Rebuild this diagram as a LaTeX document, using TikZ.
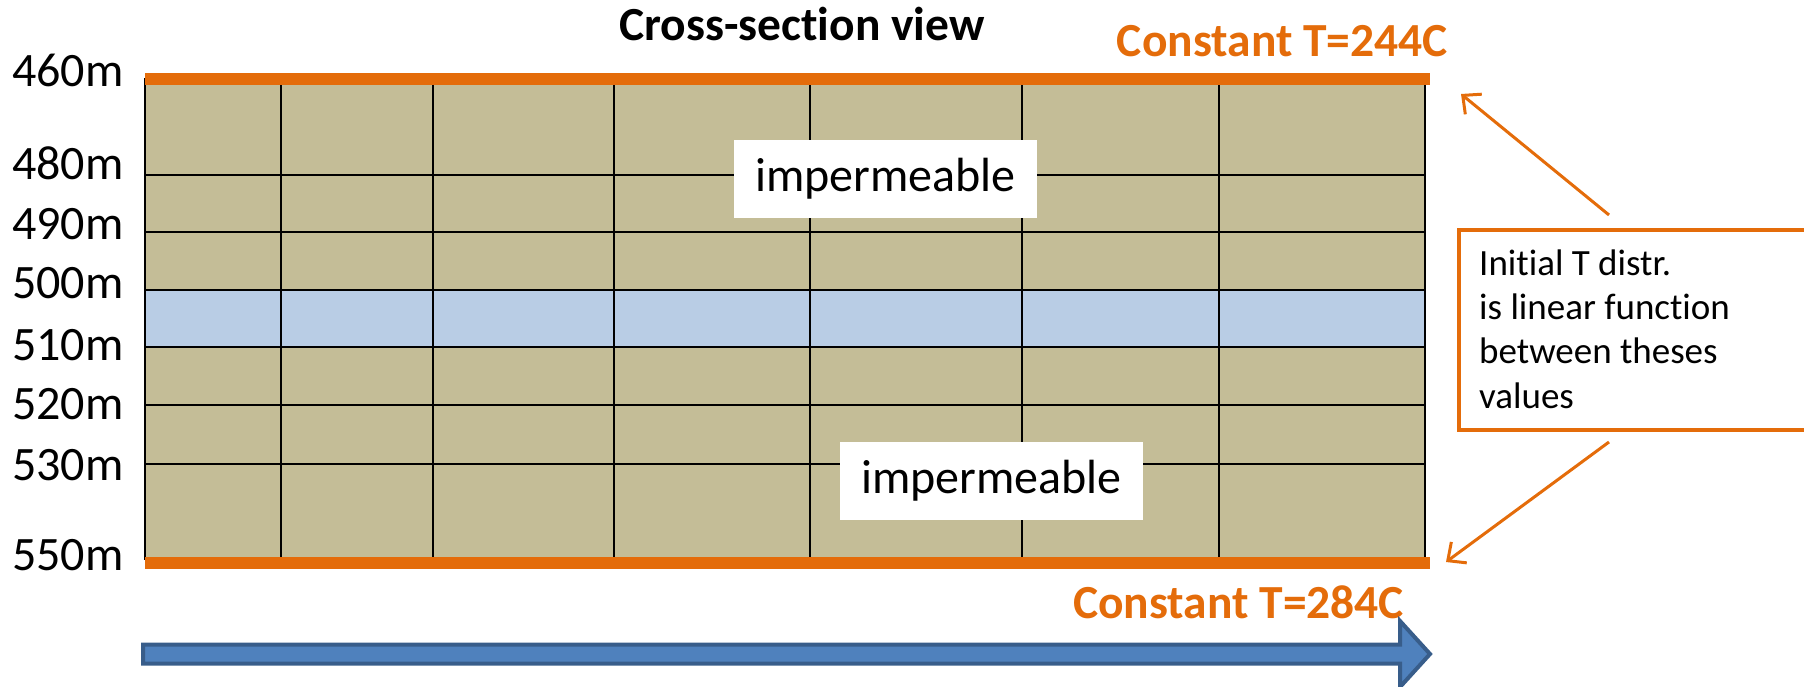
\documentclass[tikz,border=0pt]{standalone}
\usepackage{fontspec}
\setmainfont{Carlito}[Ligatures=NoCommon]
\usetikzlibrary{arrows.meta}
\definecolor{soil}{HTML}{C4BD97}
\definecolor{layerblue}{HTML}{B9CDE5}
\definecolor{orng}{HTML}{E46C0A}
\definecolor{arrowblue}{HTML}{4F81BD}
\definecolor{arrowedge}{HTML}{385D8A}
\begin{document}
\begin{tikzpicture}[x=1pt,y=-1pt,
  gridline/.style={black, line width=2pt},
  bar/.style={fill=orng, draw=none},
  depthlabel/.style={anchor=base west, inner sep=0pt, font=\fontsize{48}{52}\selectfont},
  constlabel/.style={inner sep=0pt, text=orng, font=\fontsize{47.5}{52}\selectfont\bfseries},
  imperm/.style={fill=white, draw=none, inner sep=0pt, minimum width=303pt, minimum height=78pt, font=\fontsize{48}{52}\selectfont},
  calloutline/.style={anchor=base west, inner sep=0pt, font=\fontsize{37}{44}\selectfont},
  calloutarrow/.style={draw=orng, line width=3pt, -{Straight Barb[length=14pt,width=26pt,line width=3pt]}},
  flowarrow/.style={fill=arrowblue, draw=arrowedge, line width=4pt, line join=miter}
]
\useasboundingbox (0,0) rectangle (1804,687);
% soil and aquifer layer
\fill[soil] (145,85) rectangle (1425,557);
\fill[layerblue] (145,290) rectangle (1425,347);
% grid
\foreach \yy in {175,232,290,347,405,464}
  \draw[gridline] (145,\yy) -- (1425,\yy);
\foreach \xx in {145,281,433,614,810,1022,1219,1425}
  \draw[gridline] (\xx,78) -- (\xx,560);
% boundary bars
\fill[bar] (145,73) rectangle (1430,85);
\fill[bar] (145,557) rectangle (1430,569);
% title
\node[anchor=base, inner sep=0pt, font=\fontsize{47.5}{52}\selectfont\bfseries] (title) at (802,41) {Cross-section view};
\node[constlabel, anchor=base east] (ctop) at (1448,57) {Constant T=244C};
\node[constlabel, anchor=base west] (cbot) at (1073,618) {Constant T=284C};
% depth labels
\node[depthlabel] (d460) at (12,87) {460m};
\node[depthlabel] (d480) at (12,180) {480m};
\node[depthlabel] (d490) at (12,240) {490m};
\node[depthlabel] (d500) at (12,298) {500m};
\node[depthlabel] (d510) at (12,360) {510m};
\node[depthlabel] (d520) at (12,419) {520m};
\node[depthlabel] (d530) at (12,480) {530m};
\node[depthlabel] (d550) at (12,570) {550m};
% impermeable labels
\node[imperm] (imp1) at (885.5,179) {impermeable};
\node[imperm] (imp2) at (991.5,480.5) {impermeable};
% callout box
\fill[white] (1459,230) rectangle (1804,430);
\draw[orng, line width=4pt] (1804,230) -- (1459,230) -- (1459,430) -- (1804,430);
\node[calloutline] (cl1) at (1479,275) {Initial T distr.};
\node[calloutline] (cl2) at (1479,319) {is linear function};
\node[calloutline] (cl3) at (1479,363) {between theses};
\node[calloutline] (cl4) at (1479,408) {values};
% callout arrows
\coordinate (a1tail) at (1609,215);
\coordinate (a1tip) at (1461,94);
\coordinate (a2tail) at (1609,442);
\coordinate (a2tip) at (1446,562);
\draw[calloutarrow] (a1tail) -- (a1tip);
\draw[calloutarrow] (a2tail) -- (a2tip);
% flow arrow
\draw[flowarrow] (143,644.5) -- (1400,644.5) -- (1400,621) -- (1430,654) -- (1400,687) -- (1400,663.5) -- (143,663.5) -- cycle;
\end{tikzpicture}
\end{document}
